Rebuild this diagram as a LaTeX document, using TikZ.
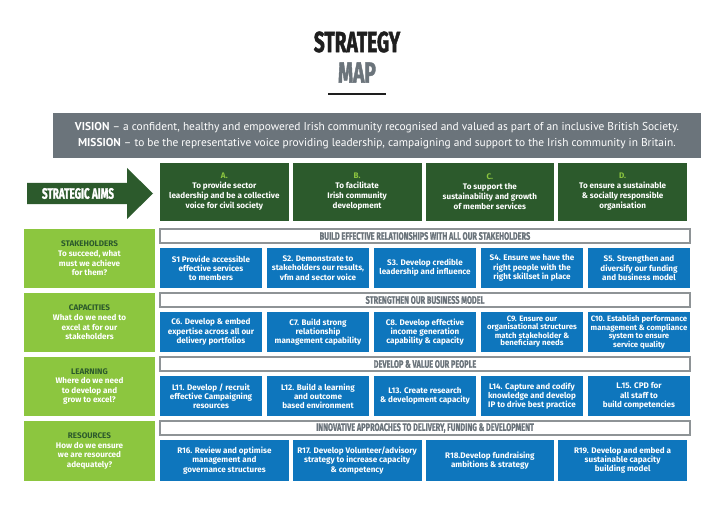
\documentclass[tikz,border=0pt]{standalone}
\usepackage{fontspec}
\setmainfont{Fira Sans}
\newfontfamily\condfont[FakeStretch=0.68,FakeBold=0.6]{Fira Sans}
\newfontfamily\titlefont[FakeStretch=0.66,FakeBold=1.4]{Fira Sans}
\newfontfamily\visfont{PT Sans}
\definecolor{dkgreen}{HTML}{2C5A2C}
\definecolor{lime}{HTML}{8CC63F}
\definecolor{boxblue}{HTML}{0E76BD}
\definecolor{slate}{HTML}{6B747B}
\definecolor{bargray}{HTML}{8E9396}
\definecolor{titleblack}{HTML}{1E1E1E}
\begin{document}
\begin{tikzpicture}[x=1pt,y=-1pt,
  aim/.style={fill=dkgreen, text=white, font=\fontsize{8.1}{10}\selectfont\bfseries, align=center, minimum width=128.75pt, minimum height=58pt, inner sep=0pt},
  panel/.style={fill=lime, text=white, font=\fontsize{8.1}{9.6}\selectfont\bfseries, align=center, minimum width=131pt, minimum height=59pt, inner sep=0pt},
  bar/.style={fill=white, draw=bargray, line width=1.2pt, minimum width=530pt, minimum height=14pt, inner sep=0pt, text=slate, font=\condfont\bfseries\fontsize{10.8}{10.8}\selectfont},
  sbox/.style={fill=boxblue, text=white, font=\fontsize{8.1}{9.2}\selectfont\bfseries, align=center, minimum width=102pt, minimum height=40pt, inner sep=0pt},
  tight/.style={font=\fontsize{7.8}{7.6}\selectfont\bfseries},
  rbox/.style={sbox, minimum width=128.75pt, minimum height=41pt}
]
\path[use as bounding box, fill=white] (0,0) rectangle (714,505);

% title
\node[font=\titlefont\bfseries\fontsize{29}{29}\selectfont, text=titleblack, inner sep=0pt] (title) at (357,42) {STRATEGY};
\node[font=\titlefont\bfseries\fontsize{29}{29}\selectfont, text=slate, inner sep=0pt] (map) at (357,72.5) {MAP};
\coordinate (ulA) at (328,94);
\coordinate (ulB) at (386,94);
\draw[line width=2.5pt, titleblack] (ulA) -- (ulB);

% vision
\node[fill=slate, text=white, minimum width=648pt, minimum height=45pt, inner sep=0pt, align=center,
  font=\visfont\fontsize{11.4}{16}\selectfont] (vision) at (377,135.5)
  {\textbf{VISION} \textendash{} a confident, healthy and empowered Irish community recognised and valued as part of an inclusive British Society.\\
   \textbf{MISSION} \textendash{} to be the representative voice providing leadership, campaigning and support to the Irish community in Britain.};

% strategic aims arrow
\fill[dkgreen] (27,183) -- (127,183) -- (127,168) -- (153,193.5) -- (127,219) -- (127,204) -- (27,204) -- cycle;
\node[text=white, font=\titlefont\bfseries\fontsize{15}{15}\selectfont, inner sep=0pt] (aimslabel) at (78,193.5) {STRATEGIC AIMS};

% aims
\node[aim] (A) at (224.375,192) {{\color{lime}A.}\\To provide sector\\leadership and be a collective\\voice for civil society};
\node[aim] (B) at (357.125,192) {{\color{lime}B.}\\To facilitate\\Irish community\\development};
\node[aim] (C) at (489.875,192) {{\color{lime}C.}\\To support the\\sustainability and growth\\of member services};
\node[aim] (D) at (622.625,192) {{\color{lime}D.}\\To ensure a sustainable\\\& socially responsible\\organisation};

% row 1 stakeholders (top 229)
\node[panel] (P1) at (89.5,258.5) {{\color{dkgreen}STAKEHOLDERS}\\To succeed, what\\must we achieve\\for them?};
\node[bar] (bar1) at (425,236) {BUILD EFFECTIVE RELATIONSHIPS WITH ALL OUR STAKEHOLDERS};
\node[sbox] (S1) at (211,268) {S1 Provide accessible\\effective services\\to members};
\node[sbox] (S2) at (318,268) {S2. Demonstrate to\\stakeholders our results,\\vfm and sector voice};
\node[sbox] (S3) at (425,268) {S3. Develop credible\\leadership and influence};
\node[sbox] (S4) at (532,268) {S4. Ensure we have the\\right people with the\\right skillset in place};
\node[sbox] (S5) at (639,268) {S5. Strengthen and\\diversify our funding\\and business model};

% row 2 capacities (top 293)
\node[panel] (P2) at (89.5,322.5) {{\color{dkgreen}CAPACITIES}\\What do we need to\\excel at for our\\stakeholders};
\node[bar] (bar2) at (425,300) {STRENGTHEN OUR BUSINESS MODEL};
\node[sbox] (C6) at (211,332) {C6. Develop \& embed\\expertise across all our\\delivery portfolios};
\node[sbox] (C7) at (318,332) {C7. Build strong\\relationship\\management capability};
\node[sbox] (C8) at (425,332) {C8. Develop effective\\income generation\\capability \& capacity};
\node[sbox, tight] (C9) at (532,332) {C9. Ensure our\\organisational structures\\match stakeholder \&\\beneficiary needs};
\node[sbox, tight] (C10) at (639,332) {C10. Establish performance\\management \& compliance\\system to ensure\\service quality};

% row 3 learning (top 357)
\node[panel] (P3) at (89.5,386.5) {{\color{dkgreen}LEARNING}\\Where do we need\\to develop and\\grow to excel?};
\node[bar] (bar3) at (425,364) {DEVELOP \& VALUE OUR PEOPLE};
\node[sbox] (L11) at (211,396) {L11. Develop / recruit\\effective Campaigning\\resources};
\node[sbox] (L12) at (318,396) {L12. Build a learning\\and outcome\\based environment};
\node[sbox] (L13) at (425,396) {L13. Create research\\\& development capacity};
\node[sbox] (L14) at (532,396) {L14. Capture and codify\\knowledge and develop\\IP to drive best practice};
\node[sbox] (L15) at (639,396) {L.15. CPD for\\all staff to\\build competencies};

% row 4 resources (top 421)
\node[panel, minimum height=60pt] (P4) at (89.5,451) {{\color{dkgreen}RESOURCES}\\How do we ensure\\we are resourced\\adequately?};
\node[bar] (bar4) at (425,428) {INNOVATIVE APPROACHES TO DELIVERY, FUNDING \& DEVELOPMENT};
\node[rbox] (R16) at (224.375,460.5) {R16. Review and optimise\\management and\\governance structures};
\node[rbox] (R17) at (357.125,460.5) {R17. Develop Volunteer/advisory\\strategy to increase capacity\\\& competency};
\node[rbox] (R18) at (489.875,460.5) {R18.Develop fundraising\\ambitions \& strategy};
\node[rbox] (R19) at (622.625,460.5) {R19. Develop and embed a\\sustainable capacity\\building model};
\end{tikzpicture}
\end{document}
